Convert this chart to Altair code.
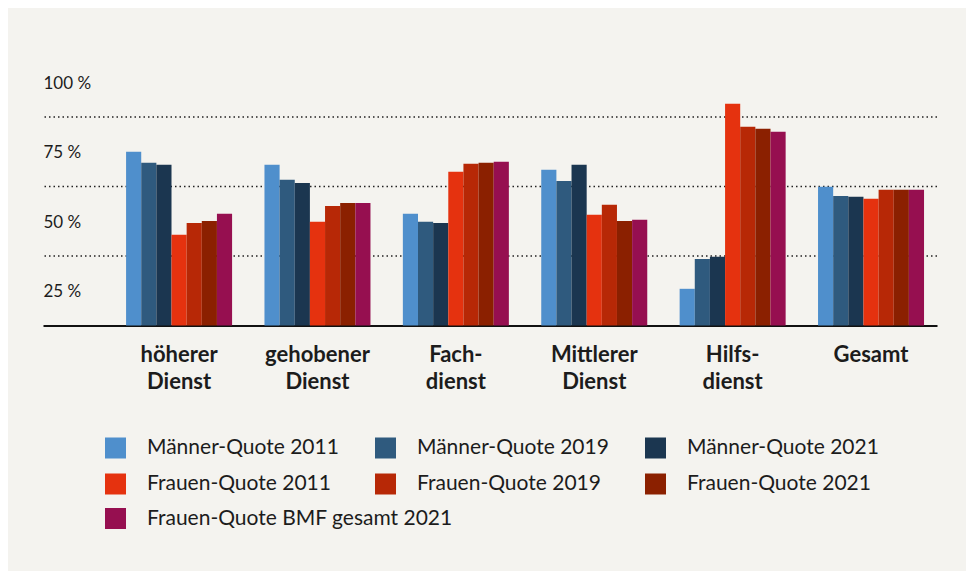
import altair as alt
import pandas as pd

# ---- data ----
categories = ["höherer|Dienst", "gehobener|Dienst", "Fach-|dienst",
              "Mittlerer|Dienst", "Hilfs-|dienst", "Gesamt"]
series = ["Männer-Quote 2011", "Männer-Quote 2019", "Männer-Quote 2021",
          "Frauen-Quote 2011", "Frauen-Quote 2019", "Frauen-Quote 2021",
          "Frauen-Quote BMF gesamt 2021"]
colors = ["#4f8fcc", "#2f5a7e", "#1b3650", "#e5320f", "#b72806", "#8b2000", "#960f50"]

maenner_2011 = [62.5, 57.8, 40.2, 56.0, 13.2, 49.9]
maenner_2019 = [58.5, 52.4, 37.3, 52.0, 23.9, 46.6]
maenner_2021 = [57.8, 51.3, 36.9, 57.8, 24.7, 46.3]
frauen_2011 = [32.6, 37.3, 55.3, 39.8, 79.8, 45.6]
frauen_2019 = [36.9, 43.0, 58.2, 43.4, 71.5, 48.8]
frauen_2021 = [37.6, 44.1, 58.5, 37.6, 70.8, 48.8]
frauen_bmf_2021 = [40.2, 44.1, 58.9, 38.0, 69.7, 48.8]

y_tick_values = [25, 50, 75, 100]
grid_values = [25, 50, 75]

all_values = [maenner_2011, maenner_2019, maenner_2021,
              frauen_2011, frauen_2019, frauen_2021, frauen_bmf_2021]

rows = []
for s, vals in zip(series, all_values):
    for c, v in zip(categories, vals):
        rows.append({"kategorie": c, "serie": s, "wert": v})
df = pd.DataFrame(rows)
df_main = df[df["serie"] != series[6]]
df_bmf = df[df["serie"] == series[6]]
grid_df = pd.DataFrame({"g": grid_values})

FONT = "Lato"
TEXT = "#1c1c1c"

y_scale = alt.Scale(domain=[0, 100], nice=False)
y_axis = alt.Axis(values=y_tick_values, grid=False, domain=False, ticks=False,
                  tickSize=0, labelAlign="left", labelPadding=0, labelOffset=35.5,
                  labelExpr="datum.value + ' %'", labelFont=FONT, labelFontSize=17,
                  labelColor=TEXT, title=None)
x_enc = alt.X("kategorie:N", sort=categories, title=None,
              scale=alt.Scale(paddingInner=0.234, paddingOuter=0.347, align=0.865),
              axis=alt.Axis(labelExpr="split(datum.label, '|')", labelAngle=0,
                            labelFont=FONT, labelFontSize=22, labelFontWeight="bold",
                            labelColor=TEXT, labelLineHeight=27, labelPadding=19,
                            ticks=False, tickSize=0, domainColor="#111111",
                            domainWidth=2, labelLimit=300))
xoff = alt.XOffset("serie:N", scale=alt.Scale(domain=series, paddingInner=0, paddingOuter=0))

grid = alt.Chart(grid_df).mark_rule(color="#222222", strokeWidth=1.5,
                                    strokeDash=[1.5, 3]).encode(
    y=alt.Y("g:Q", scale=y_scale, axis=y_axis)
)

legend_common = dict(title=None, orient="none", direction="horizontal",
                     symbolType="square", symbolSize=441,
                     symbolStrokeWidth=0, labelFont=FONT, labelFontSize=21,
                     labelColor=TEXT, labelOffset=21, labelLimit=500, padding=0,
                     rowPadding=14, columnPadding=36)

bars_main = alt.Chart(df_main).mark_bar(strokeWidth=0).encode(
    x=x_enc,
    xOffset=xoff,
    y=alt.Y("wert:Q", scale=y_scale, axis=y_axis),
    color=alt.Color("serie:N", scale=alt.Scale(domain=series[:6], range=colors[:6]),
                    legend=alt.Legend(columns=3, legendX=62, legendY=390, **legend_common)),
)

bars_bmf = alt.Chart(df_bmf).mark_bar(strokeWidth=0).encode(
    x=x_enc,
    xOffset=xoff,
    y=alt.Y("wert:Q", scale=y_scale, axis=y_axis),
    color=alt.Color("serie:N", scale=alt.Scale(domain=series[6:], range=colors[6:]),
                    legend=alt.Legend(columns=1, legendX=62, legendY=460.5, **legend_common)),
)

chart = alt.layer(grid, bars_main, bars_bmf).resolve_scale(color="independent").properties(
    width=894, height=278,
    autosize=alt.AutoSizeParams(type="none"),
    padding={"left": 35, "top": 39.5, "right": 29, "bottom": 245},
    background="#f4f3ef",
).configure_view(stroke=None)

chart.save("out.html", embed_options={"renderer": "svg", "actions": False})
